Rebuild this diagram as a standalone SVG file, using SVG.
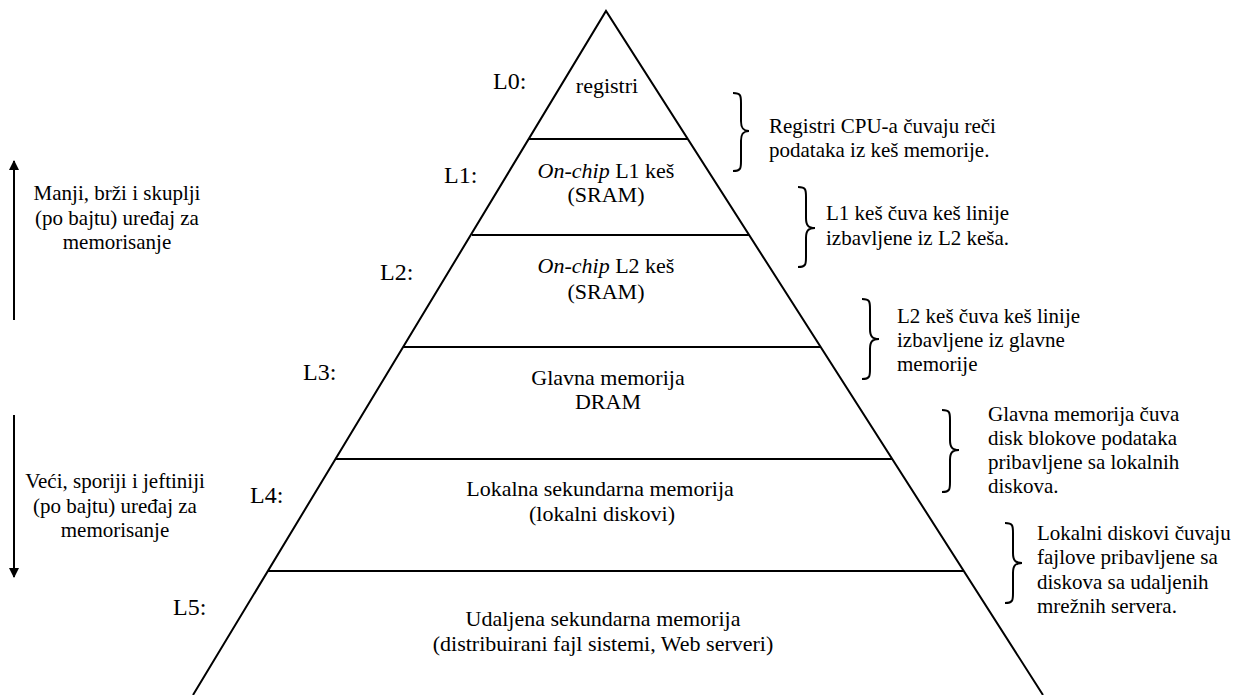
<svg xmlns="http://www.w3.org/2000/svg" width="1242" height="695" viewBox="0 0 1242 695" font-family="'Liberation Serif', 'Times New Roman', Times, serif">
<style>
text{font-family:'Liberation Serif','Times New Roman',Times,serif;fill:#000}
.b{font-size:21px}
.p{font-size:22px;text-anchor:middle}
.c{text-anchor:middle}
.lv{font-size:24px}
.ln{stroke:#000;stroke-width:2;fill:none}
.br{stroke:#000;stroke-width:2;fill:none}
.ar{stroke:#000;stroke-width:2;fill:none}
</style>
<defs>
<marker id="ah" viewBox="0 0 10 10" refX="9" refY="5" markerWidth="5" markerHeight="6" orient="auto" markerUnits="strokeWidth">
<path d="M0,0 L10,5 L0,10 z" fill="#000"/>
</marker>
</defs>
<g id="pyramid">
<path class="ln" d="M193,695 L606,11 L1043,695"/>
<line class="ln" x1="529" y1="139" x2="688" y2="139"/>
<line class="ln" x1="472" y1="235" x2="749" y2="235"/>
<line class="ln" x1="403" y1="347" x2="821" y2="347"/>
<line class="ln" x1="336" y1="459" x2="892" y2="459"/>
<line class="ln" x1="268" y1="571" x2="964" y2="571"/>
</g>
<g id="L0">
<text class="lv" x="493" y="89">L0:</text>
<text class="p" x="607" y="93">registri</text>
</g>
<g id="L1">
<text class="lv" x="444" y="183">L1:</text>
<text class="p" x="606" y="178"><tspan font-style="italic">On-chip</tspan> L1 keš</text>
<text class="p" x="606" y="202">(SRAM)</text>
</g>
<g id="L2">
<text class="lv" x="380" y="280">L2:</text>
<text class="p" x="606" y="273"><tspan font-style="italic">On-chip</tspan> L2 keš</text>
<text class="p" x="606" y="299">(SRAM)</text>
</g>
<g id="L3">
<text class="lv" x="303" y="380">L3:</text>
<text class="p" x="608" y="385">Glavna memorija</text>
<text class="p" x="608" y="409">DRAM</text>
</g>
<g id="L4">
<text class="lv" x="250" y="503">L4:</text>
<text class="p" x="600" y="496">Lokalna sekundarna memorija</text>
<text class="p" x="602" y="521">(lokalni diskovi)</text>
</g>
<g id="L5">
<text class="lv" x="173" y="615">L5:</text>
<text class="p" x="603" y="626">Udaljena sekundarna memorija</text>
<text class="p" x="603" y="651">(distribuirani fajl sistemi, Web serveri)</text>
</g>
<g id="note-left-up">
<text class="b c" x="117" y="200">Manji, brži i skuplji</text>
<text class="b c" x="117" y="225">(po bajtu) uređaj za</text>
<text class="b c" x="117" y="249">memorisanje</text>
</g>
<g id="note-left-down">
<text class="b c" x="115" y="488">Veći, sporiji i jeftiniji</text>
<text class="b c" x="115" y="513">(po bajtu) uređaj za</text>
<text class="b c" x="115" y="537">memorisanje</text>
</g>
<g id="note1">
<text class="b" x="769" y="133">Registri CPU-a čuvaju reči</text>
<text class="b" x="769" y="157">podataka iz keš memorije.</text>
</g>
<g id="note2">
<text class="b" x="826" y="220">L1 keš čuva keš linije</text>
<text class="b" x="826" y="245">izbavljene iz L2 keša.</text>
</g>
<g id="note3">
<text class="b" x="897" y="323">L2 keš čuva keš linije</text>
<text class="b" x="897" y="347">izbavljene iz glavne</text>
<text class="b" x="897" y="371">memorije</text>
</g>
<g id="note4">
<text class="b" x="988" y="421">Glavna memorija čuva</text>
<text class="b" x="988" y="445">disk blokove podataka</text>
<text class="b" x="988" y="469">pribavljene sa lokalnih</text>
<text class="b" x="988" y="493">diskova.</text>
</g>
<g id="note5">
<text class="b" x="1037" y="540">Lokalni diskovi čuvaju</text>
<text class="b" x="1037" y="564">fajlove pribavljene sa</text>
<text class="b" x="1037" y="589">diskova sa udaljenih</text>
<text class="b" x="1037" y="613">mrežnih servera.</text>
</g>
<g id="connectors">
<line class="ar" x1="14" y1="320" x2="14" y2="161" marker-end="url(#ah)"/>
<line class="ar" x1="14" y1="415" x2="14" y2="577" marker-end="url(#ah)"/>
<path class="br" d="M733,93 C741,93 741,96 741,103 L741,121 C741,128 743,131 749,131 C743,131 741,134 741,141 L741,161 C741,168 741,171 733,171"/>
<path class="br" d="M798,187 C806,187 806,190 806,197 L806,218 C806,225 808,228 815,228 C808,228 806,231 806,238 L806,257 C806,264 806,267 798,267"/>
<path class="br" d="M862,299 C870,299 870,302 870,309 L870,329 C870,336 872,339 879,339 C872,339 870,342 870,349 L870,369 C870,376 870,379 862,379"/>
<path class="br" d="M942,410 C950,410 950,413 950,420 L950,440 C950,447 952,450 959,450 C952,450 950,453 950,460 L950,482 C950,489 950,492 942,492"/>
<path class="br" d="M1005,523 C1013,523 1013,526 1013,533 L1013,553 C1013,560 1015,563 1022,563 C1015,563 1013,566 1013,573 L1013,593 C1013,600 1013,603 1005,603"/>
</g>
</svg>
